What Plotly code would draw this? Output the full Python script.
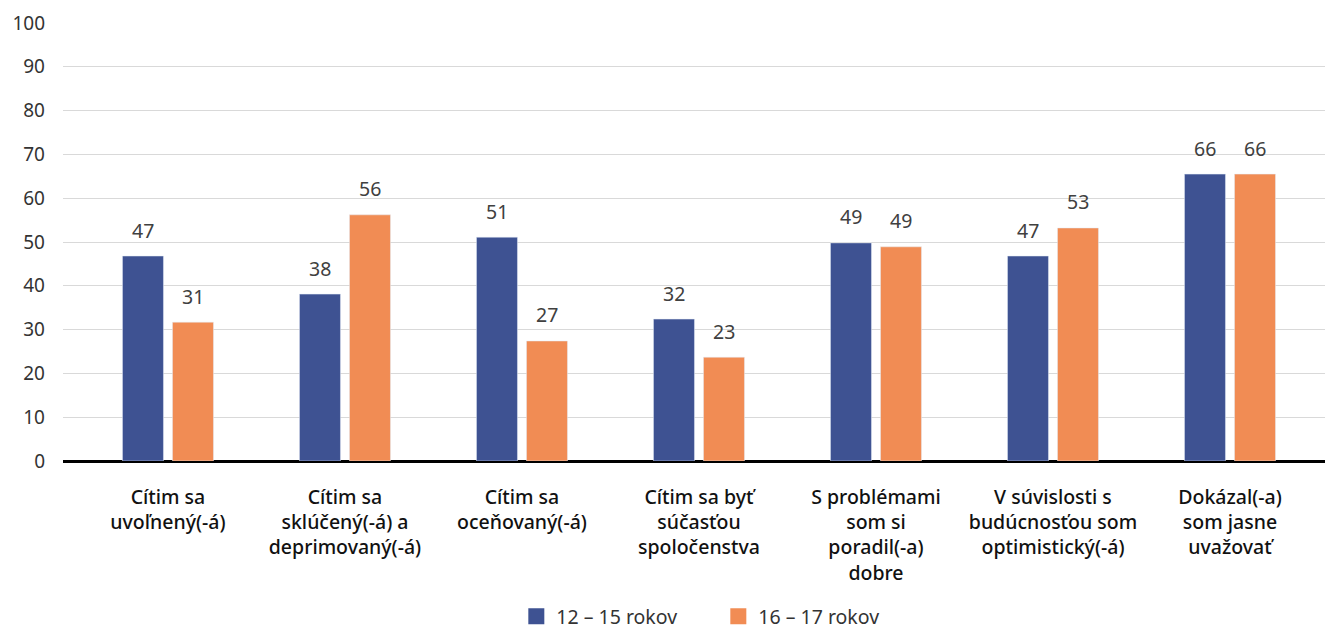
import plotly.graph_objects as go

categories = [
    "Cítim sa<br>uvoľnený(-á)",
    "Cítim sa<br>sklúčený(-á) a<br>deprimovaný(-á)",
    "Cítim sa<br>oceňovaný(-á)",
    "Cítim sa byť<br>súčasťou<br>spoločenstva",
    "S problémami<br>som si<br>poradil(-a)<br>dobre",
    "V súvislosti s<br>budúcnosťou som<br>optimistický(-á)",
    "Dokázal(-a)<br>som jasne<br>uvažovať",
]
series_names = ["12 – 15 rokov", "16 – 17 rokov"]
values_12_15 = [46.8, 38.1, 51.1, 32.4, 49.8, 46.8, 65.5]
values_16_17 = [31.7, 56.2, 27.4, 23.7, 48.9, 53.2, 65.5]
labels_12_15 = ["47", "38", "51", "32", "49", "47", "66"]
labels_16_17 = ["31", "56", "27", "23", "49", "53", "66"]
y_ticks = [0, 10, 20, 30, 40, 50, 60, 70, 80, 90, 100]

BLUE = "#3E5292"
ORANGE = "#F18C54"
FONT = "Noto Sans"

fig = go.Figure()
fig.add_trace(go.Bar(x=categories, y=values_12_15, name=series_names[0],
                     marker_color=BLUE, showlegend=False))
fig.add_trace(go.Bar(x=categories, y=values_16_17, name=series_names[1],
                     marker_color=ORANGE, showlegend=False))
# legend entries with larger square symbols
for nm, col in zip(series_names, [BLUE, ORANGE]):
    fig.add_trace(go.Scatter(x=[None], y=[None], mode="markers", name=nm,
                             marker=dict(symbol="square", size=18, color=col)))

for vals, labs, shift in [(values_12_15, labels_12_15, -25), (values_16_17, labels_16_17, 25)]:
    for c, v, t in zip(categories, vals, labs):
        fig.add_annotation(x=c, y=v, text=t, showarrow=False, xshift=shift,
                           yshift=26, yanchor="middle",
                           font=dict(family=FONT, size=19.5, color="#404040"))

fig.update_layout(
    width=1325, height=624,
    margin=dict(l=55, r=0, t=15, b=171, autoexpand=False),
    paper_bgcolor="white", plot_bgcolor="white",
    barmode="group", bargap=0.435, bargroupgap=0.18,
    font=dict(family=FONT, size=18, color="#333333"),
    legend=dict(orientation="h", x=0.516, xanchor="center", y=-0.355, yanchor="middle",
                font=dict(family=FONT, size=19.5, color="#333333"),
                entrywidth=157, entrywidthmode="pixels", itemclick=False),
)
fig.update_xaxes(type="category", range=[-0.593, 6.582], showgrid=False,
                 showline=False, ticks="",
                 tickfont=dict(family=FONT, size=19.5, color="#111111", weight=500),
                 ticklabelstandoff=22)
fig.update_yaxes(range=[0, 100], tickvals=y_ticks, showgrid=True,
                 gridcolor="#D9D9D9", gridwidth=1,
                 zeroline=True, zerolinecolor="#000000", zerolinewidth=3,
                 tickfont=dict(family=FONT, size=19, color="#333333"),
                 ticklabelstandoff=17)

fig.write_html("out.html")
